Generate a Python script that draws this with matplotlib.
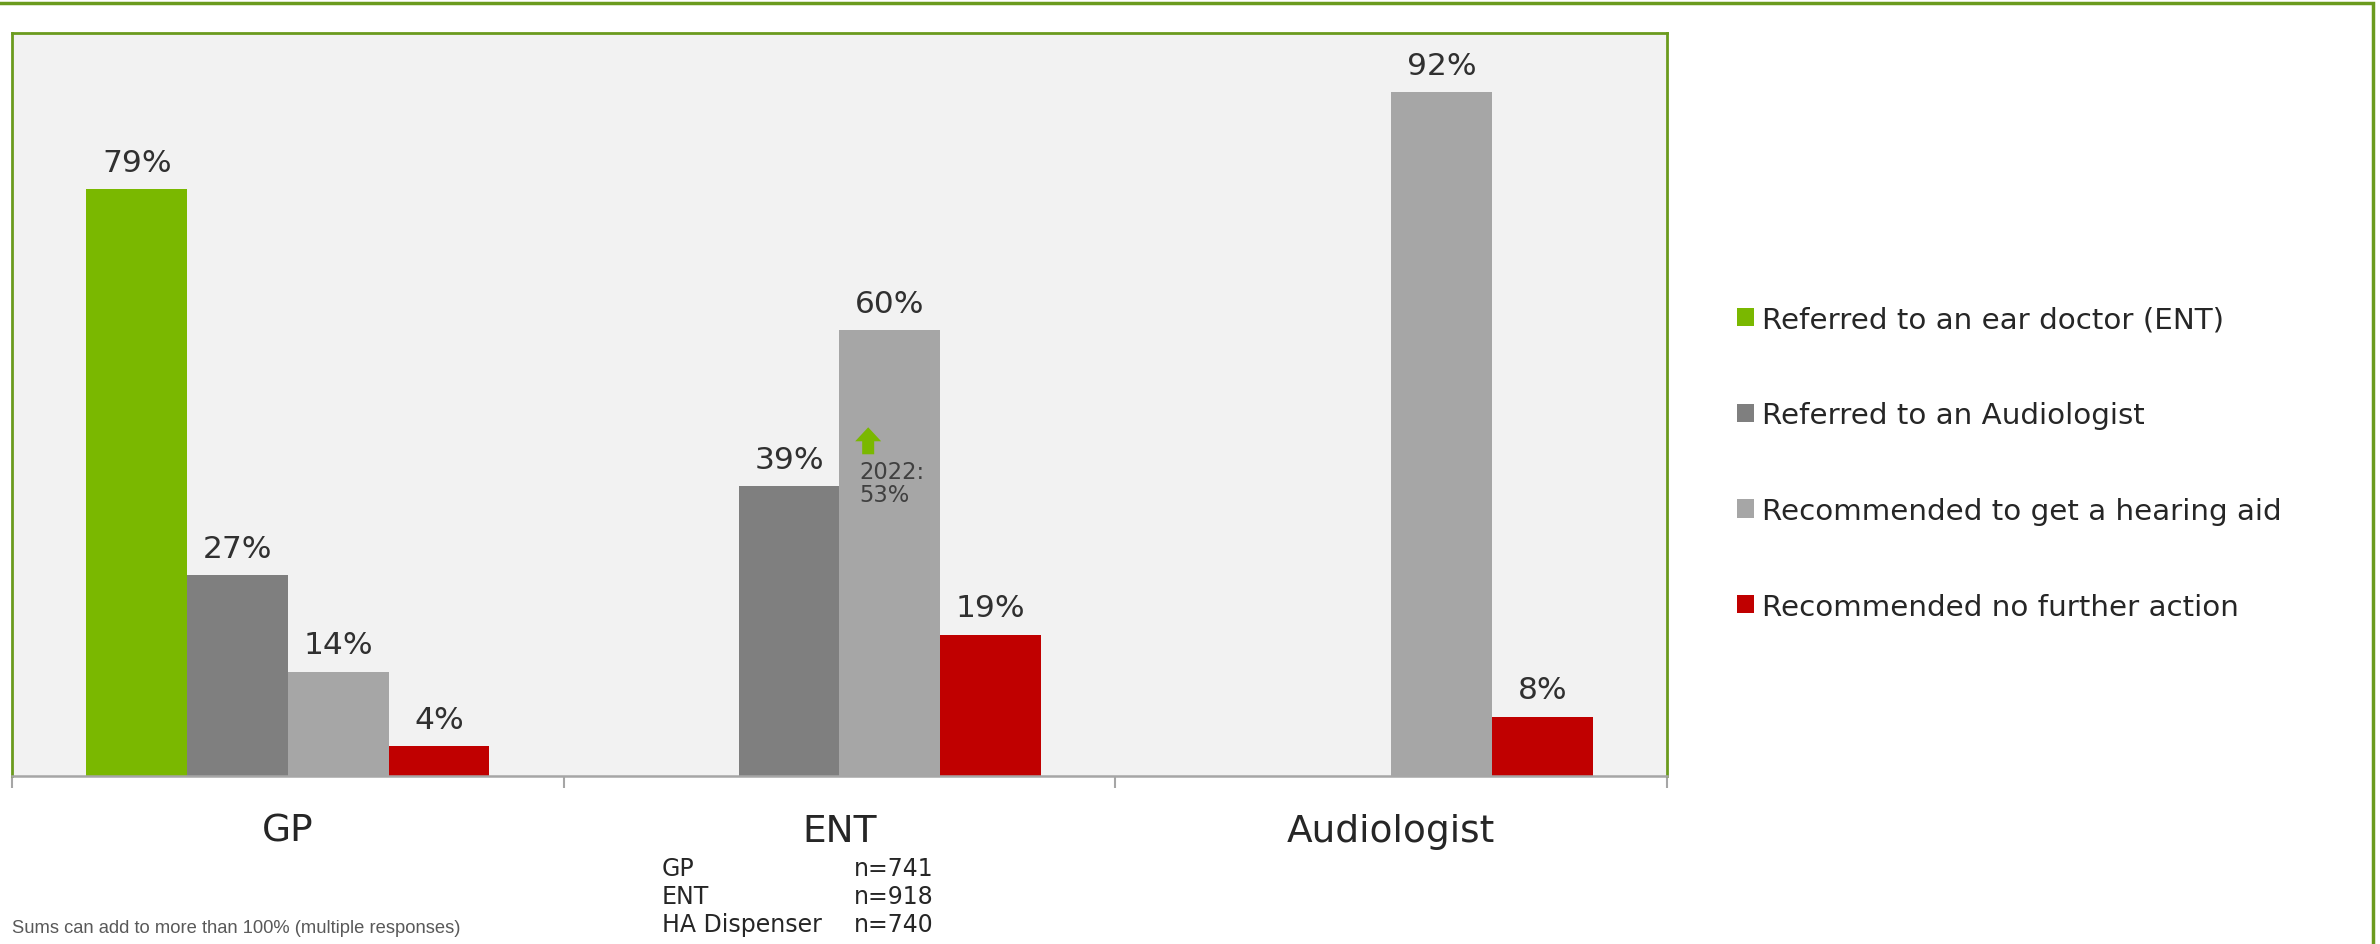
import numpy as np
from matplotlib import pyplot as plt
from matplotlib.patches import Patch, Rectangle, Polygon
from matplotlib.transforms import ScaledTranslation

# data
categories = ['GP', 'ENT', 'Audiologist']
series_names = ['Referred to an ear doctor (ENT)',
                'Referred to an Audiologist',
                'Recommended to get a hearing aid',
                'Recommended no further action']
referred_ent = [79, np.nan, np.nan]
referred_audiologist = [27, 39, np.nan]
hearing_aid = [14, 60, 92]
no_action = [4, 19, 8]
colors = ['#7AB800', '#7F7F7F', '#A6A6A6', '#C00000']

sample_labels = ['GP', 'ENT', 'HA Dispenser']
sample_sizes = ['n=741', 'n=918', 'n=740']
prev_year_lines = ['2022:', '53%']

series = [referred_ent, referred_audiologist, hearing_aid, no_action]

green = '#6B9B1E'
fig = plt.figure(figsize=(23.8, 9.45), dpi=100)
ax = fig.add_axes([12 / 2380, 1 - 777 / 945, (1667 - 12) / 2380, (777 - 34) / 945])
ax.set_facecolor('#F2F2F2')

# outer frame (only top and right edge visible)
fig.patches.append(Rectangle((-0.01, -0.01), 2373 / 2380 + 0.01, 1 - 4 / 945 + 0.01,
                             transform=fig.transFigure, fill=False,
                             edgecolor=green, lw=2.5, zorder=0))

x = np.arange(len(categories))
w = 0.1826
offsets = (np.arange(4) - 1.5) * w

for vals, off, c in zip(series, offsets, colors):
    bars = ax.bar(x + off, vals, width=w, color=c, zorder=2)
    for b, v in zip(bars, vals):
        if np.isnan(v):
            continue
        ax.annotate(f'{v:g}%', (b.get_x() + w / 2, v), xytext=(0, 9),
                    textcoords='offset points', ha='center', va='bottom',
                    fontsize=22.5, color='#303030')

ax.set_xlim(-0.5, 2.5)
ax.set_ylim(0, 100)
ax.set_yticks([])
ax.set_xticks(x)
ax.set_xticklabels(categories, fontsize=27, color='#262626')
ax.tick_params(axis='x', which='major', length=0, pad=26.5)
ax.set_xticks([-0.5, 0.5, 1.5, 2.5], minor=True)
ax.tick_params(axis='x', which='minor', length=8.6, width=1.5, color='#A6A6A6')

for s in ['left', 'top', 'right']:
    ax.spines[s].set_color(green)
    ax.spines[s].set_linewidth(2)
ax.spines['bottom'].set_color('#A6A6A6')
ax.spines['bottom'].set_linewidth(1.8)

# 2022 comparison marker on the ENT hearing-aid bar
bx = x[1] + offsets[2] - w / 2
arrow_px = np.array([[-6, 0], [6, 0], [6, 13], [13, 13], [0, 27], [-13, 13], [-6, 13]]) / 100
arrow_tr = fig.dpi_scale_trans + ScaledTranslation(bx + 0.052, 43.3, ax.transData)
ax.add_patch(Polygon(arrow_px, closed=True, facecolor='#7AB800', edgecolor='none',
                     transform=arrow_tr, zorder=3))
for i, line in enumerate(prev_year_lines):
    ax.text(bx + 0.036, 40.1 - 3.1 * i, line, fontsize=16.3, color='#404040',
            va='baseline', ha='left', zorder=3)

# legend
handles = [Patch(facecolor=c, edgecolor='none') for c in colors]
fig.legend(handles, series_names, loc='center left',
           bbox_to_anchor=(1737 / 2380, 1 - 464 / 945), frameon=False,
           fontsize=21.2, handlelength=0.58, handleheight=0.58, handletextpad=0.28,
           labelspacing=2.3, borderpad=0, borderaxespad=0, labelcolor='#262626')

# sample sizes
for i, (lab, n) in enumerate(zip(sample_labels, sample_sizes)):
    yy = 1 - (876 + 28 * i) / 945
    fig.text(662 / 2380, yy, lab, fontsize=17, color='#262626', va='baseline')
    fig.text(854 / 2380, yy, n, fontsize=17, color='#262626', va='baseline')

fig.text(12 / 2380, 1 - 933 / 945, 'Sums can add to more than 100% (multiple responses)',
         fontsize=13.2, color='#595959', family='Liberation Sans', va='baseline')

plt.savefig('out.png', dpi=100)
